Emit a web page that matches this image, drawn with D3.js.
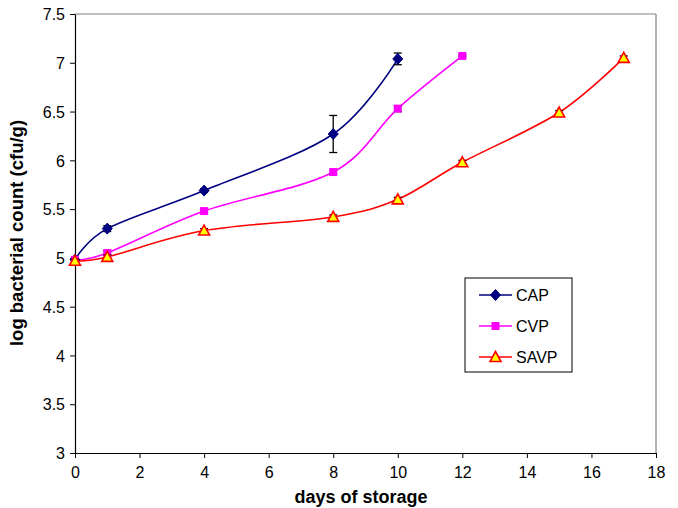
<!DOCTYPE html>
<html><head><meta charset="utf-8">
<script src="https://cdn.jsdelivr.net/npm/d3@7"></script>
<style>body{margin:0;background:#fff}svg{display:block}text{font-family:"Liberation Sans",Arial,sans-serif}</style>
</head><body><svg id="c" width="678" height="508"></svg>
<script>
const capDays = [0, 1, 4, 8, 10];
const capVals = [4.98, 5.30, 5.69, 6.27, 7.04];
const capErr  = [0.02, 0.03, 0.02, 0.19, 0.06];
const cvpDays = [0, 1, 4, 8, 10, 12];
const cvpVals = [4.98, 5.05, 5.48, 5.88, 6.53, 7.07];
const cvpErr  = [0.02, 0.02, 0.02, 0.02, 0.03, 0.01];
const savpDays = [0, 1, 4, 8, 10, 12, 15, 17];
const savpVals = [4.97, 5.01, 5.28, 5.42, 5.60, 5.98, 6.49, 7.05];
const savpErr  = [0.02, 0.02, 0.02, 0.02, 0.02, 0.02, 0.02, 0.02];
const xTicks = [0, 2, 4, 6, 8, 10, 12, 14, 16, 18];
const yTicks = [3, 3.5, 4, 4.5, 5, 5.5, 6, 6.5, 7, 7.5];
const seriesNames = ["CAP", "CVP", "SAVP"];

const svg = d3.select("#c");
const L = 75, R = 656, T = 14, B = 453;
const x = d3.scaleLinear().domain([0, 18]).range([L, R]);
const y = d3.scaleLinear().domain([3, 7.5]).range([B, T]);

svg.append("line").attr("x1", L).attr("x2", R).attr("y1", T).attr("y2", T).attr("stroke", "#808080").attr("stroke-width", 1.2);
svg.append("line").attr("x1", R).attr("x2", R).attr("y1", T).attr("y2", B).attr("stroke", "#808080").attr("stroke-width", 1.2);

const xAxis = svg.append("g").attr("transform", `translate(0,${B})`)
  .call(d3.axisBottom(x).tickValues(xTicks).tickSize(5).tickSizeOuter(0).tickFormat(d3.format("d")));
const yAxis = svg.append("g").attr("transform", `translate(${L},0)`)
  .call(d3.axisLeft(y).tickValues(yTicks).tickSize(5).tickSizeOuter(0).tickFormat(d => String(d)));
[xAxis, yAxis].forEach(g => {
  g.select(".domain").attr("stroke", "#000").attr("stroke-width", 1.2);
  g.selectAll(".tick line").attr("stroke", "#000");
  g.selectAll("text").attr("font-size", 16).attr("fill", "#000").attr("font-family", '"Liberation Sans",Arial,sans-serif');
});
xAxis.selectAll("text").attr("y", 25).attr("dy", 0);
yAxis.selectAll("text").attr("x", -10).attr("dy", "0.36em");

svg.append("text").attr("x", 361).attr("y", 503).attr("text-anchor", "middle")
  .attr("font-size", 18).attr("font-weight", "bold").text("days of storage");
svg.append("text").attr("transform", "translate(23,233) rotate(-90)").attr("text-anchor", "middle")
  .attr("font-size", 18.5).attr("font-weight", "bold").text("log bacterial count (cfu/g)");

const series = [
  {name: seriesNames[0], days: capDays, vals: capVals, err: capErr, color: "#000080", marker: "diamond"},
  {name: seriesNames[1], days: cvpDays, vals: cvpVals, err: cvpErr, color: "#FF00FF", marker: "square"},
  {name: seriesNames[2], days: savpDays, vals: savpVals, err: savpErr, color: "#FF0000", marker: "triangle"}
];

const line = d3.line().x(d => x(d[0])).y(d => y(d[1])).curve(d3.curveCardinal.tension(0));

function drawMarker(g, type, cx, cy) {
  if (type === "diamond") {
    g.append("path").attr("d", `M${cx},${cy-5.5}L${cx+5},${cy}L${cx},${cy+5.5}L${cx-5},${cy}Z`).attr("fill", "#000080").attr("stroke", "#000080");
  } else if (type === "square") {
    g.append("rect").attr("x", cx-4).attr("y", cy-4).attr("width", 8).attr("height", 8).attr("fill", "#FF00FF");
  } else {
    g.append("path").attr("d", `M${cx},${cy-5.5}L${cx+5.5},${cy+4.5}L${cx-5.5},${cy+4.5}Z`).attr("fill", "#FFFF00").attr("stroke", "#FF0000").attr("stroke-width", 1.6);
  }
}

series.forEach(s => {
  const pts = s.days.map((d, i) => [d, s.vals[i]]);
  svg.append("path").attr("d", line(pts)).attr("fill", "none").attr("stroke", s.color).attr("stroke-width", 1.6);
});
series.forEach(s => {
  const g = svg.append("g");
  s.days.forEach((d, i) => {
    const cx = x(d), y1 = y(s.vals[i] + s.err[i]), y2 = y(s.vals[i] - s.err[i]);
    g.append("line").attr("x1", cx).attr("x2", cx).attr("y1", y1).attr("y2", y2).attr("stroke", "#000").attr("stroke-width", 1.3);
    [y1, y2].forEach(yy => g.append("line").attr("x1", cx-4).attr("x2", cx+4).attr("y1", yy).attr("y2", yy).attr("stroke", "#000").attr("stroke-width", 1.3));
  });
  s.days.forEach((d, i) => drawMarker(g, s.marker, x(d), y(s.vals[i])));
});

const lg = svg.append("g");
lg.append("rect").attr("x", 465).attr("y", 278).attr("width", 107).attr("height", 94).attr("fill", "#fff").attr("stroke", "#000").attr("stroke-width", 1);
series.forEach((s, i) => {
  const yy = 295 + i * 31;
  lg.append("line").attr("x1", 479).attr("x2", 512).attr("y1", yy).attr("y2", yy).attr("stroke", s.color).attr("stroke-width", 1.6);
  drawMarker(lg, s.marker, 495.5, yy);
  lg.append("text").attr("x", 516).attr("y", yy + 6).attr("font-size", 16).text(s.name);
});
</script></body></html>
